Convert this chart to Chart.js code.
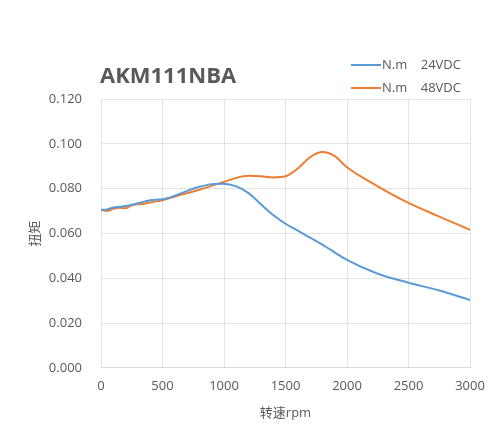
<!DOCTYPE html>
<html>
<head>
<meta charset="utf-8">
<script src="https://cdn.jsdelivr.net/npm/chart.js@4"></script>
<style>
  html, body { margin: 0; padding: 0; background: #fff; }
  #wrap { width: 500px; height: 443px; }
</style>
</head>
<body>
<div id="wrap"><canvas id="torque"></canvas></div>
<script>
// ===== DATA =====
const speed24 = [0, 50, 100, 150, 200, 300, 400, 500, 600, 700, 800, 900, 1000, 1100, 1200, 1300, 1400, 1500, 1600, 1800, 2000, 2250, 2500, 2750, 3000];
const torque24 = [0.0705, 0.0707, 0.0716, 0.0718, 0.0722, 0.0735, 0.0748, 0.0752, 0.0768, 0.0790, 0.0808, 0.0820, 0.0822, 0.0810, 0.0780, 0.0730, 0.0682, 0.0643, 0.0612, 0.0550, 0.0482, 0.0420, 0.0380, 0.0345, 0.0303];

const speed48 = [0, 50, 100, 150, 200, 250, 300, 350, 400, 500, 600, 800, 1000, 1100, 1200, 1300, 1400, 1500, 1600, 1700, 1800, 1900, 2000, 2250, 2500, 2750, 3000];
const torque48 = [0.0705, 0.0700, 0.0710, 0.0715, 0.0712, 0.0725, 0.0730, 0.0732, 0.0738, 0.0748, 0.0765, 0.0795, 0.0830, 0.0848, 0.0857, 0.0855, 0.0850, 0.0855, 0.0890, 0.0940, 0.0963, 0.0945, 0.0895, 0.0810, 0.0736, 0.0675, 0.0616];

const seriesNames = ["N.m    24VDC", "N.m    48VDC"];
const seriesColors = ["#5b9bd5", "#ed7d31"];
const chartTitle = "AKM111NBA";
const yTitle = "扭矩";
const xTitle = "转速rpm";

const FONT = "'Open Sans', 'Noto Sans CJK SC', sans-serif";
const GREY = "#595959";

function points(xs, ys) {
  return xs.map((x, i) => ({ x: x, y: ys[i] }));
}

// title, two-row legend and y title drawn around the plot
const headerPlugin = {
  id: "header",
  afterDraw(chart) {
    const ctx = chart.ctx;
    const area = chart.chartArea;
    ctx.save();
    ctx.fillStyle = GREY;
    ctx.font = "bold 22px " + FONT;
    ctx.textBaseline = "middle";
    ctx.fillText(chartTitle, area.left - 1, 77);

    ctx.font = "13px " + FONT;
    seriesNames.forEach((name, i) => {
      const y = 65 + i * 23;
      ctx.strokeStyle = seriesColors[i];
      ctx.lineWidth = 2;
      ctx.beginPath();
      ctx.moveTo(351, y);
      ctx.lineTo(381, y);
      ctx.stroke();
      ctx.fillStyle = GREY;
      ctx.fillText(name, 382, y);
    });

    ctx.translate(35, (area.top + area.bottom) / 2);
    ctx.rotate(-Math.PI / 2);
    ctx.textAlign = "center";
    ctx.fillText(yTitle, 0, 0);
    ctx.restore();
  }
};

new Chart(document.getElementById("torque"), {
  type: "line",
  data: {
    datasets: [
      {
        label: seriesNames[0],
        data: points(speed24, torque24),
        borderColor: seriesColors[0],
        borderWidth: 2,
        pointRadius: 0,
        cubicInterpolationMode: "monotone"
      },
      {
        label: seriesNames[1],
        data: points(speed48, torque48),
        borderColor: seriesColors[1],
        borderWidth: 2,
        pointRadius: 0,
        cubicInterpolationMode: "monotone"
      }
    ]
  },
  options: {
    responsive: true,
    maintainAspectRatio: false,
    animation: false,
    layout: { padding: { top: 99, left: 0, right: 30, bottom: 22 } },
    plugins: {
      legend: { display: false },
      tooltip: { enabled: false }
    },
    scales: {
      x: {
        type: "linear",
        min: 0,
        max: 3000,
        ticks: {
          stepSize: 500,
          color: GREY,
          font: { family: FONT, size: 13 },
          padding: 11,
          callback: v => String(v)
        },
        grid: { color: "#e3e3e3", drawTicks: false },
        border: { color: "#d9d9d9" },
        title: { display: true, text: xTitle, color: GREY, font: { family: FONT, size: 13 }, padding: { top: 0, bottom: 0 } }
      },
      y: {
        min: 0,
        max: 0.12,
        afterFit: s => { s.width = 101; },
        ticks: {
          stepSize: 0.02,
          color: GREY,
          font: { family: FONT, size: 13 },
          padding: 19,
          callback: v => v.toFixed(3)
        },
        grid: { color: "#e3e3e3", drawTicks: false },
        border: { display: false }
      }
    }
  },
  plugins: [headerPlugin]
});
</script>
</body>
</html>
